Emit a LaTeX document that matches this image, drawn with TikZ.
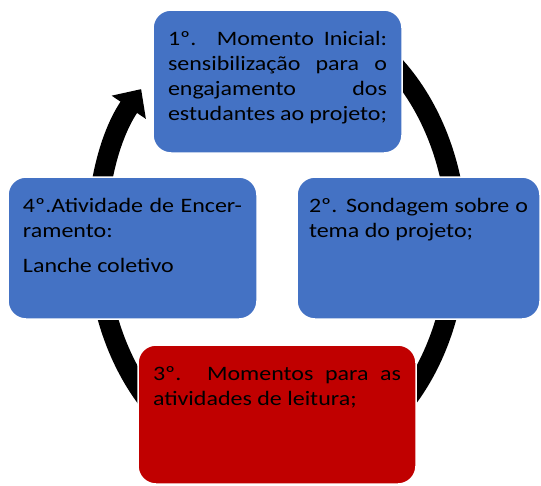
\documentclass[tikz,border=0pt]{standalone}
\usepackage{fontspec}
\setmainfont{Carlito}[FakeStretch=1.17]
\usetikzlibrary{arrows.meta}
\definecolor{stageBlue}{HTML}{4472C4}
\definecolor{stageRed}{HTML}{C00000}
\hyphenpenalty=10000
\exhyphenpenalty=10000
\newcommand\ringStart{70}
\newcommand\ringEnd{-221}

\tikzset{
  stage/.style={draw=white, line width=1.5pt, fill=stageBlue, rounded corners=18pt,
    inner xsep=15pt, inner ysep=17.5pt, text height=17.5pt, align=justify,
    font=\fontsize{20.5}{25}\selectfont},
  ring/.style={line width=20pt, -{Triangle[width=40pt,length=22pt]}},
}

\begin{document}
\begin{tikzpicture}[x=1pt, y=-1pt]
    \useasboundingbox (0,0) rectangle (541,485);
    \coordinate (ctr) at (277,240);

    % cycle ring behind the stages
    \draw[ring] ([shift={(\ringStart:180pt and 230pt)}]ctr)
      arc[start angle=\ringStart, end angle=\ringEnd, x radius=180pt, y radius=230pt];

    % the four stages
    \node[stage, text width=219pt, text depth=90.5pt] (s1) at (277.5,81.5)
      {1º. Momento Inicial:\linebreak sensibilização para o\linebreak engajamento dos\linebreak estudantes ao projeto;};
    \node[stage, text width=219pt, text depth=89.5pt, inner xsep=12pt] (s2) at (418.5,248)
      {2º. Sondagem sobre o\linebreak tema do projeto;};
    \node[stage, fill=stageRed, text width=248pt, text depth=86.5pt] (s3) at (277,414.5)
      {3º. Momentos para as\linebreak atividades de leitura;};
    \node[stage, text width=219pt, text depth=89.5pt] (s4) at (132.5,248)
      {4º.Atividade de Encer-\linebreak ramento:\\[10pt]Lanche coletivo};
\end{tikzpicture}
\end{document}
